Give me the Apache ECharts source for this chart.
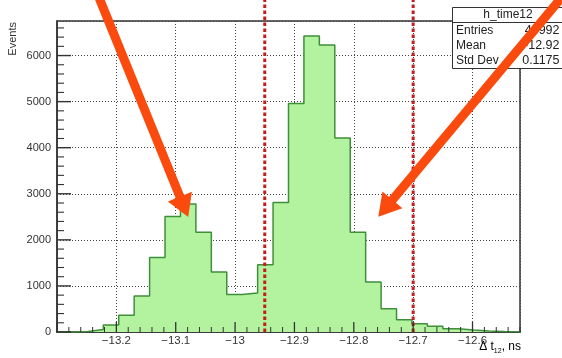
<!DOCTYPE html>
<html>
<head>
<meta charset="utf-8">
<script src="https://cdn.jsdelivr.net/npm/echarts@6/dist/echarts.min.js"></script>
<style>
  html, body { margin: 0; padding: 0; background: #fff; }
  #chart { width: 562px; height: 358px; }
</style>
</head>
<body>
<div id="chart"></div>
<script>
// h_time12: 30 bins of 0.026 ns from -13.3 ns
const binLow = -13.3;
const binWidth = 0.026;
const counts = [2, 12, 52, 150, 365, 780, 1617, 2505, 2780, 2166,
                1300, 816, 845, 1458, 2809, 4960, 6426, 6231, 4209, 2166,
                1083, 505, 267, 180, 123, 72, 45, 20, 10, 5];

// axis ranges and tick spacing
const xMin = -13.3, xMax = -12.52, xMajor = 0.1, xMinor = 0.02;
const yMin = 0, yMax = 6750, yMajor = 1000, yMinor = 200;

// selection window (dashed red cuts)
const cutLines = [-12.95, -12.7];
const cutTop = 7300;

// stats box
const statsTitle = 'h_time12';
const statsLabels = ['Entries', 'Mean', 'Std Dev'];
const statsValues = ['43992', '-12.92', '0.1175'];

// annotation arrows, [tail, tip] in (ns, events)
const arrowTails = [[-13.229, 7250], [-12.4392, 7424]];
const arrowTips  = [[-13.079, 2496], [-12.7587, 2503]];

const FONT = '"Liberation Sans", Arial, Helvetica, sans-serif';
const INK = '#333';

function edge(i) { return +(binLow + i * binWidth).toFixed(4); }

// step outline: each bin from its left edge, closed at the last right edge
const histPoints = counts.map((c, i) => [edge(i), c]);
histPoints.push([edge(counts.length), counts[counts.length - 1]]);

// tick positions along both axes
const xTickValues = [];
for (let k = 0; ; k++) {
  const v = +(xMin + k * xMinor).toFixed(4);
  if (v > xMax + 1e-9) break;
  xTickValues.push(v);
}
const yTickValues = [];
for (let k = 0; ; k++) {
  const v = yMin + k * yMinor;
  if (v > yMax) break;
  yTickValues.push(v);
}

function fmtX(v) {
  const r = Math.round(v * 10) / 10;
  const s = Math.abs(r).toFixed(1).replace(/\.0$/, '');
  return (r < 0 ? '\u2212' : '') + s;
}
function fmtY(v) { return String(Math.round(v)); }

const chart = echarts.init(document.getElementById('chart'), null, { renderer: 'canvas' });

const dotted = { color: '#444', width: 1, type: [1, 2] };

const option = {
  animation: false,
  backgroundColor: '#fff',
  grid: {
    left: 57, right: 42, top: 21, bottom: 26,
    show: true, borderColor: INK, borderWidth: 1.5
  },
  xAxis: {
    type: 'value', min: xMin, max: xMax, interval: xMajor,
    axisLine: { show: true, onZero: false, lineStyle: { color: INK, width: 1.5 } },
    axisTick: { show: false },
    axisLabel: {
      show: true, margin: 3, color: INK, fontFamily: FONT, fontSize: 11.5,
      showMinLabel: false, showMaxLabel: false, formatter: fmtX
    },
    splitLine: { show: true, lineStyle: dotted }
  },
  yAxis: {
    type: 'value', min: yMin, max: yMax, interval: yMajor,
    axisLine: { show: true, onZero: false, lineStyle: { color: INK, width: 1.5 } },
    axisTick: { show: false },
    axisLabel: {
      show: true, margin: 6, color: INK, fontFamily: FONT, fontSize: 11,
      showMaxLabel: false, formatter: fmtY
    },
    splitLine: { show: true, lineStyle: dotted }
  },
  series: [
    {
      name: 'h_time12',
      type: 'line',
      step: 'end',
      data: histPoints,
      showSymbol: false,
      symbol: 'none',
      lineStyle: { color: '#3f8f3a', width: 1.5 },
      areaStyle: { color: '#b3f3a0', opacity: 1 },
      z: 2
    },
    ...cutLines.map(x => ({
      type: 'line',
      data: [[x, yMin], [x, cutTop]],
      symbol: 'none',
      clip: false,
      lineStyle: { color: '#c41d1d', width: 3, type: [3.5, 2.5] },
      z: 5
    }))
  ]
};

chart.setOption(option);

const toPx = d => chart.convertToPixel({ seriesIndex: 0 }, d);
const graphics = [];

// inward tick marks on the bottom axis
xTickValues.forEach(v => {
  const major = Math.abs(v / xMajor - Math.round(v / xMajor)) < 1e-6;
  const p = toPx([v, yMin]);
  const len = major ? 10 : 5;
  graphics.push({
    type: 'line', z: 40, silent: true,
    shape: { x1: p[0], y1: p[1], x2: p[0], y2: p[1] - len },
    style: { stroke: INK, lineWidth: major ? 1.3 : 1 }
  });
});
// inward tick marks on the left axis
const leftX = toPx([xMin, yMin])[0];
yTickValues.forEach(v => {
  const major = v % yMajor === 0;
  const py = toPx([xMin, v])[1];
  const len = major ? 14 : 7;
  const w = major ? 1.4 : 1.1;
  graphics.push({
    type: 'rect', z: 45, silent: true,
    shape: { x: leftX, y: py - w / 2, width: len, height: w },
    style: { fill: INK }
  });
});

// stats box
graphics.push({
  type: 'rect', z: 50,
  shape: { x: 452.5, y: 7.5, width: 116, height: 61 },
  style: { fill: '#fff', stroke: INK, lineWidth: 1 }
});
graphics.push({
  type: 'line', z: 51,
  shape: { x1: 452.5, y1: 22.5, x2: 570, y2: 22.5 },
  style: { stroke: INK, lineWidth: 1 }
});
graphics.push({
  type: 'text', z: 52,
  style: { text: statsTitle, x: 508, y: 15, align: 'center', verticalAlign: 'middle',
           font: '12px ' + FONT, fill: '#222' }
});
const rowY = [31, 46, 61];
statsLabels.forEach((lab, i) => {
  graphics.push({
    type: 'text', z: 52,
    style: { text: lab, x: 456, y: rowY[i], align: 'left', verticalAlign: 'middle',
             font: '12px ' + FONT, fill: '#222' }
  });
  graphics.push({
    type: 'text', z: 52,
    style: { text: statsValues[i], x: 559.5, y: rowY[i], align: 'right', verticalAlign: 'middle',
             font: '12.5px ' + FONT, fill: '#222' }
  });
});

// y title
graphics.push({
  type: 'text', z: 20,
  x: 13, y: 22, rotation: Math.PI / 2,
  style: { text: 'Events', x: 0, y: 0, align: 'right', verticalAlign: 'middle',
           font: '11px ' + FONT, fill: INK }
});

// x title with subscript
graphics.push({
  type: 'text', z: 20,
  style: {
    text: '{m|\u0394 t}{s|12}{m|, ns}',
    x: 521, y: 341, align: 'right', verticalAlign: 'top',
    rich: {
      m: { fontSize: 12, fontFamily: FONT, color: INK, lineHeight: 14, verticalAlign: 'top' },
      s: { fontSize: 7, fontFamily: FONT, color: INK, lineHeight: 8, padding: [8, 0, 0, 0], verticalAlign: 'bottom' }
    }
  }
});

// arrows
const shaftW = 9, headL = 22, headH = 13;
arrowTails.forEach((tailD, i) => {
  const T = toPx(tailD);
  const P = toPx(arrowTips[i]);
  const dx = P[0] - T[0], dy = P[1] - T[1];
  const len = Math.hypot(dx, dy);
  const ux = dx / len, uy = dy / len;
  const nx = -uy, ny = ux;
  const B = [P[0] - ux * headL, P[1] - uy * headL];
  const pts = [
    [T[0] + nx * shaftW / 2, T[1] + ny * shaftW / 2],
    [B[0] + nx * shaftW / 2, B[1] + ny * shaftW / 2],
    [B[0] + nx * headH, B[1] + ny * headH],
    [P[0], P[1]],
    [B[0] - nx * headH, B[1] - ny * headH],
    [B[0] - nx * shaftW / 2, B[1] - ny * shaftW / 2],
    [T[0] - nx * shaftW / 2, T[1] - ny * shaftW / 2]
  ];
  graphics.push({
    type: 'polygon', z: 100,
    shape: { points: pts },
    style: { fill: '#fb4a0e' }
  });
});

chart.setOption({ graphic: graphics });
</script>
</body>
</html>
